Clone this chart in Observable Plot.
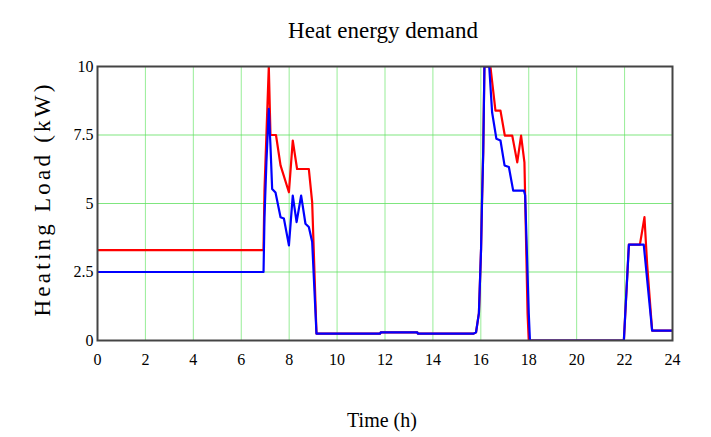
<!DOCTYPE html>
<html>
<head>
<meta charset="utf-8">
<script src="https://cdn.jsdelivr.net/npm/d3@7"></script>
<script src="https://cdn.jsdelivr.net/npm/@observablehq/plot@0.6"></script>
<style>
  body { margin: 0; background: #fff; }
</style>
</head>
<body>
<div id="chart"></div>
<script>
const title = "Heat energy demand";
const xLabel = "Time (h)";
const yLabel = "Heating Load (kW)";
const xTicks = [0, 2, 4, 6, 8, 10, 12, 14, 16, 18, 20, 22, 24];
const yTicks = [0, 2.5, 5, 7.5, 10];

const redTime = [0, 6.93, 6.97, 7.15, 7.22, 7.45, 7.64, 7.99, 8.15, 8.33, 8.82, 8.96, 9.14, 11.8, 11.82, 13.35, 13.37, 15.7, 15.8, 15.92, 16.01, 16.05, 16.1, 16.15, 16.4, 16.61, 16.82, 17.0, 17.31, 17.52, 17.68, 17.82, 17.95, 18.0, 21.97, 22.18, 22.64, 22.83, 22.94, 23.15, 24];
const redLoad = [3.3, 3.3, 5.5, 10, 7.5, 7.5, 6.39, 5.41, 7.3, 6.26, 6.26, 5.05, 0.25, 0.25, 0.3, 0.3, 0.25, 0.25, 0.3, 1.0, 3.35, 5.1, 6.9, 10, 10, 8.39, 8.39, 7.48, 7.48, 6.5, 7.48, 6.5, 1.0, 0, 0, 3.5, 3.5, 4.5, 2.8, 0.36, 0.36];

const blueTime = [0, 6.93, 6.97, 7.05, 7.15, 7.22, 7.29, 7.43, 7.64, 7.78, 7.99, 8.15, 8.31, 8.5, 8.68, 8.82, 8.96, 9.14, 11.8, 11.82, 13.35, 13.37, 15.7, 15.8, 15.92, 16.01, 16.05, 16.1, 16.15, 16.35, 16.47, 16.65, 16.82, 16.99, 17.17, 17.35, 17.8, 17.85, 18.0, 18.05, 21.97, 22.18, 22.8, 23.15, 24];
const blueLoad = [2.5, 2.5, 4.5, 6.5, 8.45, 7.1, 5.53, 5.4, 4.5, 4.45, 3.47, 5.29, 4.32, 5.29, 4.26, 4.14, 3.6, 0.25, 0.25, 0.3, 0.3, 0.25, 0.25, 0.3, 1.0, 3.35, 5.1, 6.9, 10, 10, 8.33, 7.36, 7.3, 6.39, 6.33, 5.47, 5.47, 5.3, 1.0, 0, 0, 3.5, 3.5, 0.36, 0.36];

const red = redTime.map((t, i) => ({t, v: redLoad[i]}));
const blue = blueTime.map((t, i) => ({t, v: blueLoad[i]}));

const chart = Plot.plot({
  width: 711,
  height: 437,
  marginTop: 66,
  marginLeft: 97,
  marginRight: 39,
  marginBottom: 97,
  style: {fontFamily: "'Liberation Serif', 'DejaVu Serif', serif", fontSize: "15px", background: "#fff", color: "#000"},
  x: {domain: [0, 24]},
  y: {domain: [0, 10]},
  marks: [
    Plot.gridX(xTicks, {stroke: "#7de87d", strokeOpacity: 0.8, strokeWidth: 1}),
    Plot.gridY(yTicks, {stroke: "#5fe05f", strokeOpacity: 0.8, strokeWidth: 1}),
    Plot.line(red, {x: "t", y: "v", stroke: "#ff0000", strokeWidth: 2.2, clip: true}),
    Plot.line(blue, {x: "t", y: "v", stroke: "#0000ff", strokeWidth: 2.2, clip: true}),
    Plot.frame({stroke: "#444", strokeWidth: 2}),
    Plot.axisX(xTicks, {tickSize: 0, tickPadding: 13, fontSize: 16, label: null}),
    Plot.axisY(yTicks, {tickSize: 0, tickPadding: 4, fontSize: 16, label: null, tickFormat: d => String(d)}),
    Plot.text([title], {frameAnchor: "top", dy: -45, dx: -2, text: d => d, fontSize: 23, fill: "#000"}),
    Plot.text([xLabel], {frameAnchor: "bottom", dy: 86, dx: -3, text: d => d, fontSize: 20, fill: "#000"}),
    Plot.text([yLabel], {frameAnchor: "left", dx: -55, dy: -3, rotate: -90, text: d => d, fontSize: 23, fill: "#000"})
  ]
});
d3.select(chart).selectAll("text")
  .filter(function() { return this.textContent === yLabel; })
  .attr("text-anchor", "start")
  .attr("x", -116)
  .attr("textLength", 232)
  .attr("lengthAdjust", "spacing");
document.getElementById("chart").append(chart);
</script>
</body>
</html>
